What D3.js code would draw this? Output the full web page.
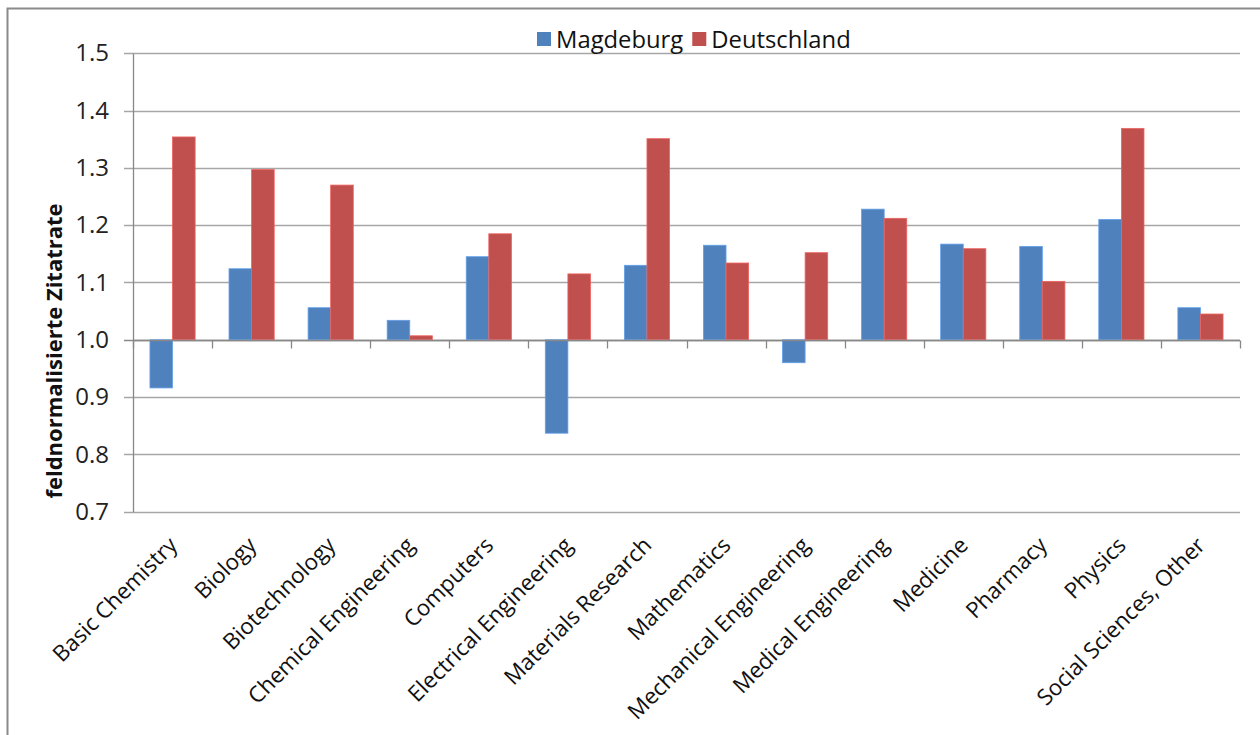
<!DOCTYPE html>
<html>
<head>
<meta charset="utf-8">
<script src="https://cdnjs.cloudflare.com/ajax/libs/d3/7.8.5/d3.min.js"></script>
<style>
  html, body { margin: 0; padding: 0; background: #fff; }
  svg { display: block; font-family: "Open Sans", Lato, sans-serif; }
</style>
</head>
<body>
<svg id="chart" width="1260" height="735"></svg>
<script>
// Field-normalised citation rate by subject: Magdeburg vs. Germany
const categories = [
  "Basic Chemistry", "Biology", "Biotechnology", "Chemical Engineering",
  "Computers", "Electrical Engineering", "Materials Research", "Mathematics",
  "Mechanical Engineering", "Medical Engineering", "Medicine", "Pharmacy",
  "Physics", "Social Sciences, Other"
];
const magdeburg = [0.916, 1.124, 1.056, 1.034, 1.145, 0.837, 1.130, 1.165,
                   0.960, 1.228, 1.167, 1.163, 1.210, 1.056];
const deutschland = [1.354, 1.297, 1.270, 1.007, 1.185, 1.115, 1.351, 1.134,
                     1.152, 1.212, 1.159, 1.102, 1.369, 1.045];
const seriesNames = ["Magdeburg", "Deutschland"];
const seriesColors = ["#4F81BD", "#C0504D"];
const yTicks = [0.7, 0.8, 0.9, 1.0, 1.1, 1.2, 1.3, 1.4, 1.5];
const yTitle = "feldnormalisierte Zitatrate";

const svg = d3.select("#chart");

// outer frame of the chart object
svg.append("rect")
  .attr("x", 7.5).attr("y", 8.5)
  .attr("width", 1400).attr("height", 900)
  .attr("fill", "none").attr("stroke", "#8a8a8a").attr("stroke-width", 2);

const plot = { left: 133, right: 1240, top: 53.3, bottom: 511.7 };

const x0 = d3.scaleBand()
  .domain(categories)
  .range([plot.left, plot.right])
  .paddingInner(0).paddingOuter(0);

// two bars per group with a 150% gap width
const barW = x0.bandwidth() / 3.5;
const x1 = d3.scaleBand()
  .domain(seriesNames)
  .range([0.75 * barW, 2.75 * barW]);

const y = d3.scaleLinear()
  .domain([0.7, 1.5])
  .range([plot.bottom, plot.top]);

// horizontal gridlines
svg.append("g")
  .selectAll("line")
  .data(yTicks)
  .join("line")
  .attr("x1", plot.left - 9).attr("x2", plot.right)
  .attr("y1", d => Math.round(y(d)) + 0.5).attr("y2", d => Math.round(y(d)) + 0.5)
  .attr("stroke", d => d === 1.0 ? "#888" : "#a6a6a6")
  .attr("stroke-width", 1.3);

// y axis
const yAxis = d3.axisLeft(y)
  .tickValues(yTicks)
  .tickFormat(d3.format(".1f"))
  .tickSize(0)
  .tickPadding(24);
const gy = svg.append("g")
  .attr("transform", `translate(${plot.left},0)`)
  .call(yAxis);
gy.select(".domain").attr("stroke", "#888").attr("stroke-width", 1.3);
gy.selectAll("text")
  .attr("font-size", 24)
  .attr("fill", "#222")
  .attr("font-family", "'Open Sans', sans-serif");

// bars
const data = categories.map((c, i) => ({ cat: c, values: [magdeburg[i], deutschland[i]] }));
const groups = svg.append("g")
  .selectAll("g")
  .data(data)
  .join("g")
  .attr("transform", d => `translate(${x0(d.cat)},0)`);

groups.selectAll("rect")
  .data(d => d.values.map((v, j) => ({ v, name: seriesNames[j], color: seriesColors[j] })))
  .join("rect")
  .attr("x", d => x1(d.name))
  .attr("width", x1.bandwidth())
  .attr("y", d => Math.min(y(d.v), y(1.0)))
  .attr("height", d => Math.abs(y(d.v) - y(1.0)))
  .attr("fill", d => d.color)
  .attr("stroke", d => d3.color(d.color).brighter(0.6))
  .attr("stroke-width", 0.8);

// category axis at 1.0 with tick marks between groups
const xAxisY = Math.round(y(1.0)) + 0.5;
svg.append("line")
  .attr("x1", plot.left).attr("x2", plot.right)
  .attr("y1", xAxisY).attr("y2", xAxisY)
  .attr("stroke", "#888").attr("stroke-width", 1.3);
svg.append("g")
  .selectAll("line")
  .data(d3.range(categories.length + 1))
  .join("line")
  .attr("x1", i => Math.round(plot.left + i * x0.step()) + 0.5)
  .attr("x2", i => Math.round(plot.left + i * x0.step()) + 0.5)
  .attr("y1", xAxisY).attr("y2", xAxisY + 8)
  .attr("stroke", "#888").attr("stroke-width", 1.3);

// category labels, rotated
svg.append("g")
  .selectAll("text")
  .data(categories)
  .join("text")
  .attr("transform", d => `translate(${x0(d) + x0.bandwidth() / 2 + 6},${plot.bottom + 35}) rotate(-45)`)
  .attr("text-anchor", "end")
  .attr("font-size", 22.3)
  .attr("fill", "#111")
  .text(d => d);

// y axis title
svg.append("text")
  .attr("transform", `translate(62,351) rotate(-90)`)
  .attr("text-anchor", "middle")
  .attr("font-size", 22)
  .attr("font-weight", "bold")
  .attr("fill", "#111")
  .text(yTitle);

// legend
const legend = svg.append("g");
let lx = 537;
seriesNames.forEach((name, i) => {
  legend.append("rect")
    .attr("x", lx).attr("y", 32)
    .attr("width", 14).attr("height", 14)
    .attr("fill", seriesColors[i]);
  const t = legend.append("text")
    .attr("x", lx + 19).attr("y", 48)
    .attr("font-size", 23.8)
    .attr("fill", "#111")
    .text(name);
  lx += 19 + t.node().getComputedTextLength() + 9;
});
</script>
</body>
</html>
